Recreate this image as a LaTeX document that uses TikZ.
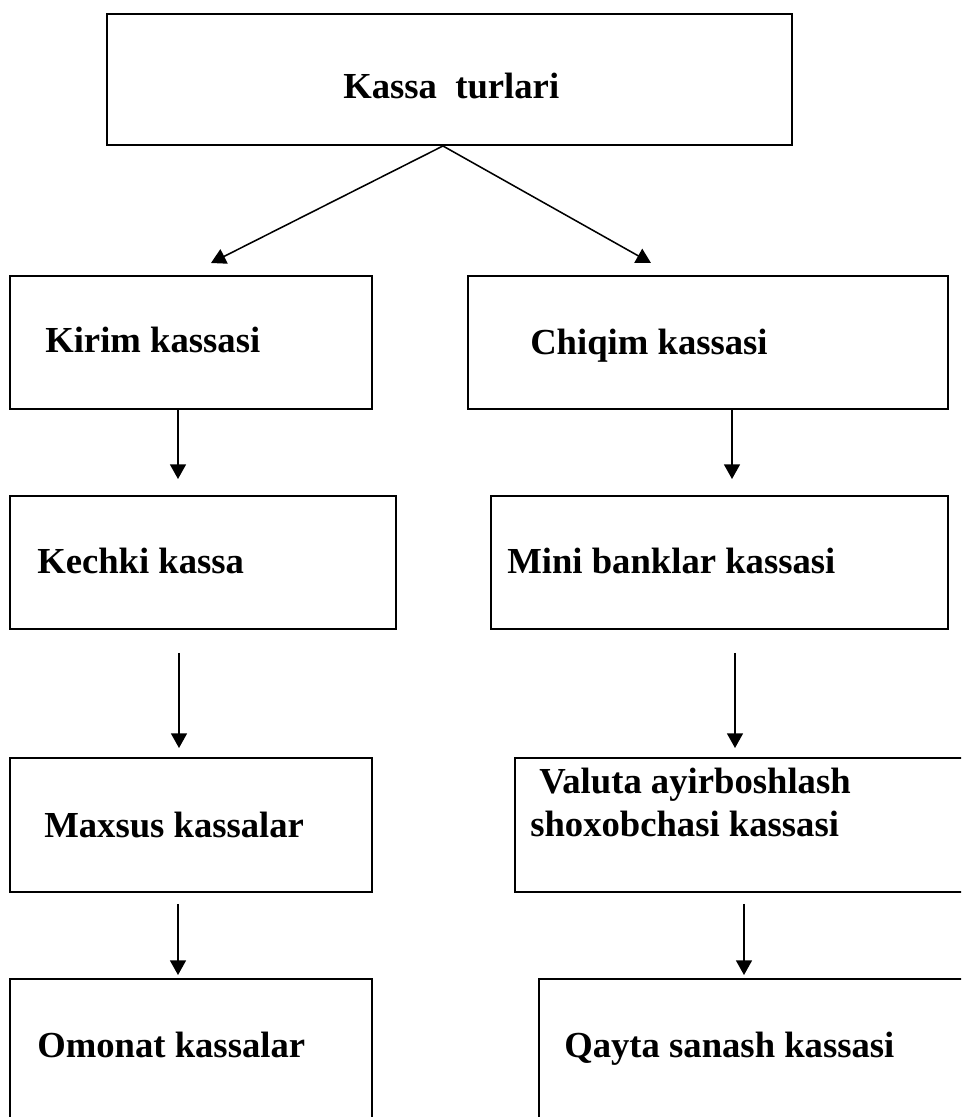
\documentclass[tikz,border=0pt]{standalone}
\usepackage{fontspec}
\setmainfont{Liberation Serif}
\usetikzlibrary{arrows.meta}

\tikzset{
  box/.style={draw, line width=1.45pt, inner sep=0pt},
  lbl/.style={anchor=base west, inner sep=0pt, font=\bfseries\fontsize{27.5}{33}\selectfont},
  arr/.style={line width=1.15pt, -{Triangle[length=11pt,width=12pt]}}
}

\begin{document}
\begin{tikzpicture}[x=0.75pt,y=0.75pt,yscale=-1,xscale=1]
\clip (0,0) rectangle (961,1117);

%Shape: Rectangle [top]
\node [box, minimum width=513.75pt, minimum height=98.25pt] (top) at (449.5,79.5) {};
%Shape: Rectangle [left column]
\node [box, minimum width=271.5pt, minimum height=99.75pt] (kirim) at (191,342.5) {};
\node [box, minimum width=289.5pt, minimum height=99.75pt] (kechki) at (203,562.5) {};
\node [box, minimum width=271.5pt, minimum height=100.5pt] (maxsus) at (191,825) {};
\node [box, minimum width=271.5pt, minimum height=128.25pt] (omonat) at (191,1064.5) {};
%Shape: Rectangle [right column]
\node [box, minimum width=360pt, minimum height=99.75pt] (chiqim) at (708,342.5) {};
\node [box, minimum width=342.75pt, minimum height=99.75pt] (mini) at (719.5,562.5) {};
\node [box, minimum width=363.75pt, minimum height=100.5pt] (valuta) at (757.5,825) {};
\node [box, minimum width=345.75pt, minimum height=128.25pt] (qayta) at (769.5,1064.5) {};

%Arrow tips
\coordinate (tl) at (211,263);
\coordinate (tr) at (651,263);
\coordinate (t1) at (178,479);
\coordinate (t2) at (732,479);
\coordinate (t3) at (179,748);
\coordinate (t4) at (735,748);
\coordinate (t5) at (178,975);
\coordinate (t6) at (744,975);

%Straight Lines
\draw [arr] ([xshift=-4.9pt]top.south) -- (tl);
\draw [arr] ([xshift=-4.9pt]top.south) -- (tr);
\draw [arr] (kirim.south -| t1) -- (t1);
\draw [arr] (chiqim.south -| t2) -- (t2);
\draw [arr, shorten <=17.25pt] (kechki.south -| t3) -- (t3);
\draw [arr, shorten <=17.25pt] (mini.south -| t4) -- (t4);
\draw [arr, shorten <=8.25pt] (maxsus.south -| t5) -- (t5);
\draw [arr, shorten <=8.25pt] (valuta.south -| t6) -- (t6);

% Text Node
\node [lbl] (toptxt) at (343,98) {Kassa\ \ turlari};
\node [lbl] (kirimtxt) at (45,352) {Kirim kassasi};
\node [lbl] (chiqimtxt) at (530,354) {Chiqim kassasi};
\node [lbl] (kechkitxt) at (37,573) {Kechki kassa};
\node [lbl] (minitxt) at (507,573) {Mini banklar kassasi};
\node [lbl] (maxsustxt) at (44,837) {Maxsus kassalar};
\node [lbl] (valutatxt) at (539,793) {Valuta ayirboshlash};
\node [lbl] (shoxtxt) at (530,836) {shoxobchasi kassasi};
\node [lbl] (omonattxt) at (37,1057) {Omonat kassalar};
\node [lbl] (qaytatxt) at (564,1057) {Qayta sanash kassasi};

\end{tikzpicture}
\end{document}
